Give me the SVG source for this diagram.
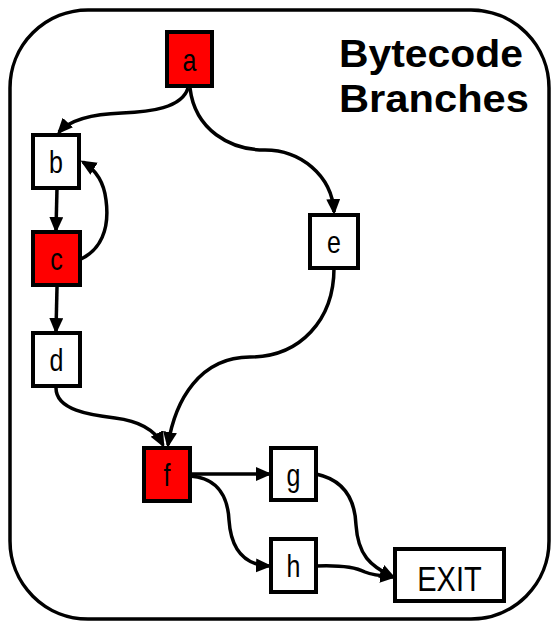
<svg xmlns="http://www.w3.org/2000/svg" width="554" height="624" viewBox="0 0 554 624">
  <style>
    .frame { fill: #ffffff; stroke: #000000; stroke-width: 3.5; }
    .box { fill: #ffffff; stroke: #000000; stroke-width: 4; }
    .box.hot { fill: #ff0000; }
    .lbl { font-family: "Liberation Sans", Arial, sans-serif; font-size: 25px; fill: #000000; text-anchor: middle; }
    .lbl.big { font-size: 29px; }
    .title { font-family: "Liberation Sans", Arial, sans-serif; font-size: 38px; font-weight: bold; fill: #000000; }
    .edge { fill: none; stroke: #000000; stroke-width: 3.5; }
  </style>
  <defs>
    <marker id="arrow" markerUnits="userSpaceOnUse" markerWidth="17" markerHeight="15" refX="13" refY="7" orient="auto">
      <path d="M0,0 L16,7 L0,14 z" fill="#000000"/>
    </marker>
  </defs>

  <!-- outer frame -->
  <rect class="frame" x="10" y="10" width="539" height="609" rx="78" ry="78"/>

  <!-- title -->
  <g id="title">
    <text class="title" x="339" y="67" textLength="184" lengthAdjust="spacingAndGlyphs">Bytecode</text>
    <text class="title" x="339" y="112" textLength="190" lengthAdjust="spacingAndGlyphs">Branches</text>
  </g>

  <!-- control-flow edges -->
  <g id="edges">
    <path class="edge" marker-end="url(#arrow)" d="M188,88 C182,108 150,112 122,113 C92,114 70,120 59,132"/>
    <path class="edge" marker-end="url(#arrow)" d="M190,88 C195,130 230,150 265,150 C300,150 332,175 334,212"/>
    <path class="edge" marker-end="url(#arrow)" d="M57,188 L56,230"/>
    <path class="edge" marker-end="url(#arrow)" d="M81,259 C100,250 110,230 106,200 C104,182 96,170 83,162"/>
    <path class="edge" marker-end="url(#arrow)" d="M57,287 L56,331"/>
    <path class="edge" marker-end="url(#arrow)" d="M56,388 C56,410 90,415 115,418 C140,421 155,430 163,445"/>
    <path class="edge" marker-end="url(#arrow)" d="M334,268 C334,320 300,357 250,357 C200,357 175,400 168,445"/>
    <path class="edge" marker-end="url(#arrow)" d="M190,474 L269,474"/>
    <path class="edge" marker-end="url(#arrow)" d="M190,476 C220,478 228,500 229,520 C231,550 245,565 269,566"/>
    <path class="edge" marker-end="url(#arrow)" d="M316,474 C345,480 355,500 356,525 C358,555 370,566 393,577"/>
    <path class="edge" marker-end="url(#arrow)" d="M316,566 C340,565 355,567 365,572 C372,575 382,576 393,577"/>
  </g>

  <!-- basic blocks -->
  <g id="node-a">
    <rect class="box hot" x="167" y="32" width="45" height="54"/>
    <text class="lbl" transform="translate(189.5,71) scale(1,1.22)">a</text>
  </g>
  <g id="node-b">
    <rect class="box" x="33" y="135" width="46" height="53"/>
    <text class="lbl" transform="translate(56,173) scale(1,1.22)">b</text>
  </g>
  <g id="node-c">
    <rect class="box hot" x="33" y="232" width="47" height="53"/>
    <text class="lbl" transform="translate(56.5,270) scale(1,1.22)">c</text>
  </g>
  <g id="node-d">
    <rect class="box" x="33" y="333" width="47" height="53"/>
    <text class="lbl" transform="translate(56.5,371) scale(1,1.22)">d</text>
  </g>
  <g id="node-e">
    <rect class="box" x="310" y="215" width="48" height="53"/>
    <text class="lbl" transform="translate(334,253) scale(1,1.22)">e</text>
  </g>
  <g id="node-f">
    <rect class="box hot" x="144" y="448" width="46" height="53"/>
    <text class="lbl" transform="translate(167,486) scale(1,1.22)">f</text>
  </g>
  <g id="node-g">
    <rect class="box" x="271" y="448" width="45" height="52"/>
    <text class="lbl" transform="translate(293.5,486) scale(1,1.22)">g</text>
  </g>
  <g id="node-h">
    <rect class="box" x="271" y="539" width="45" height="53"/>
    <text class="lbl" transform="translate(293.5,577) scale(1,1.22)">h</text>
  </g>
  <g id="node-exit">
    <rect class="box" x="395" y="549" width="109" height="52"/>
    <text class="lbl big" transform="translate(449.5,591) scale(1,1.18)">EXIT</text>
  </g>
</svg>
